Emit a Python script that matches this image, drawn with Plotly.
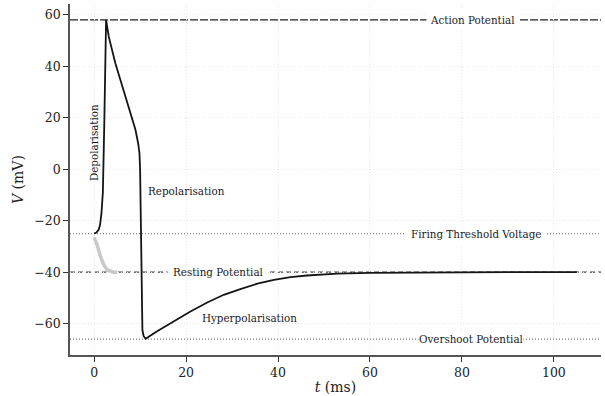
import plotly.graph_objects as go

# Main action potential trace (t in ms, V in mV)
t_main = [0, 0.5, 1.0, 1.3, 1.6, 1.9, 2.2, 2.45, 2.6,
          3.18, 3.91, 4.63, 5.72, 6.81, 7.90, 8.99, 9.57, 9.86, 10.0, 10.07,
          10.15, 10.25, 10.35, 10.5, 10.75, 11.2,
          13.7, 17.3, 20.95, 24.6, 28.2, 31.8, 35.5, 39.1, 42.7, 46.3, 52.9,
          60, 70, 80, 90, 105]
v_main = [-25.0, -24.6, -23.5, -21.5, -17.0, -9.0, 17.0, 42.0, 58.0,
          51.5, 46.3, 41.1, 34.7, 28.2, 21.7, 15.3, 10.1, 6.2, -0.3, -11.9,
          -30.0, -48.0, -58.0, -62.5, -64.8, -65.9,
          -63.0, -59.1, -55.3, -51.8, -48.8, -46.6, -44.5, -43.0, -41.9, -41.3, -40.6,
          -40.3, -40.12, -40.05, -40.02, -40.0]

# Failed initiation (grey) trace
t_fail = [0, 0.65, 1.37, 2.1, 2.8, 3.5, 4.2, 5.0]
v_fail = [-26.5, -29.4, -33.9, -37.1, -39.1, -39.7, -40.0, -40.0]

# Reference levels
v_action = 58
v_threshold = -25
v_resting = -40
v_overshoot = -66

# Label positions (t, V)
lbl_action = (82.2, 58)
lbl_threshold = (83.0, -25)
lbl_resting = (27.0, -40)
lbl_overshoot = (82.0, -66)
lbl_depol = (0.0, 10.2)
lbl_repol = (20.0, -8.5)
lbl_hyper = (33.8, -57.8)

x_range = [-5.25, 110.25]
y_range = [-72.2, 64.2]
x_ticks = [0, 20, 40, 60, 80, 100]
y_ticks = [-60, -40, -20, 0, 20, 40, 60]

ANN_FONT = dict(family="DejaVu Serif Condensed, Liberation Serif, serif", size=11.5, color="#222")
TICK_FONT = dict(family="DejaVu Serif, serif", size=12.5, color="#222")
TITLE_FONT = dict(family="DejaVu Serif, serif", size=14, color="#222")

fig = go.Figure()

fig.add_trace(go.Scatter(x=t_fail, y=v_fail, mode="lines",
                         line=dict(color="#c8c8c8", width=3.5), hoverinfo="skip"))
fig.add_trace(go.Scatter(x=t_main, y=v_main, mode="lines",
                         line=dict(color="#151515", width=1.8), hoverinfo="skip"))

shapes = []
def hline(y, color, width, dash):
    shapes.append(dict(type="line", xref="paper", yref="y", x0=0, x1=1, y0=y, y1=y,
                       line=dict(color=color, width=width, dash=dash), layer="below"))

hline(v_action, "#222", 1.2, "8px,2px")
hline(v_threshold, "#888", 1.2, "1px,2px")
hline(v_resting, "#444", 1.1, "5px,3px")
hline(v_overshoot, "#777", 1.2, "1px,2px")
# white gap behind the resting label (under the traces)
shapes.append(dict(type="rect", xref="x", yref="y",
                   x0=lbl_resting[0] - 11, x1=lbl_resting[0] + 11,
                   y0=lbl_resting[1] - 2, y1=lbl_resting[1] + 2,
                   fillcolor="white", line=dict(width=0), layer="below"))

def label(text, pos, pad=3, bg="white", angle=0):
    fig.add_annotation(x=pos[0], y=pos[1], text=text, showarrow=False,
                       font=ANN_FONT, bgcolor=bg, borderpad=pad, textangle=angle,
                       xanchor="center", yanchor="middle")

label("Action Potential", lbl_action, pad=3)
label("Firing Threshold Voltage", lbl_threshold, pad=5)
label("Resting Potential", lbl_resting, pad=0, bg="rgba(0,0,0,0)")
label("Overshoot Potential", lbl_overshoot, pad=0)
label("Depolarisation", lbl_depol, pad=0, bg="rgba(0,0,0,0)", angle=-90)
label("Repolarisation", lbl_repol, pad=0, bg="rgba(0,0,0,0)")
label("Hyperpolarisation", lbl_hyper, pad=0, bg="rgba(0,0,0,0)")

axis_common = dict(showline=True, linecolor="#555", linewidth=1.6, ticks="outside",
                   ticklen=5, tickwidth=1.2, tickcolor="#333", tickfont=TICK_FONT,
                   showgrid=True, gridcolor="#e6e6e6", griddash="1px,2px", gridwidth=1,
                   zeroline=False, mirror=False)

fig.update_xaxes(range=x_range, tickvals=x_ticks, **axis_common,
                 title=dict(text="<i>t</i> (ms)", font=TITLE_FONT, standoff=3))
fig.update_yaxes(range=y_range, tickvals=y_ticks, **axis_common,
                 title=dict(text="<i>V</i> (mV)", font=TITLE_FONT, standoff=7))

fig.update_layout(width=605, height=396, margin=dict(l=70, r=4, t=4, b=41),
                  plot_bgcolor="white", paper_bgcolor="white", showlegend=False,
                  shapes=shapes)

fig.write_html("out.html")
